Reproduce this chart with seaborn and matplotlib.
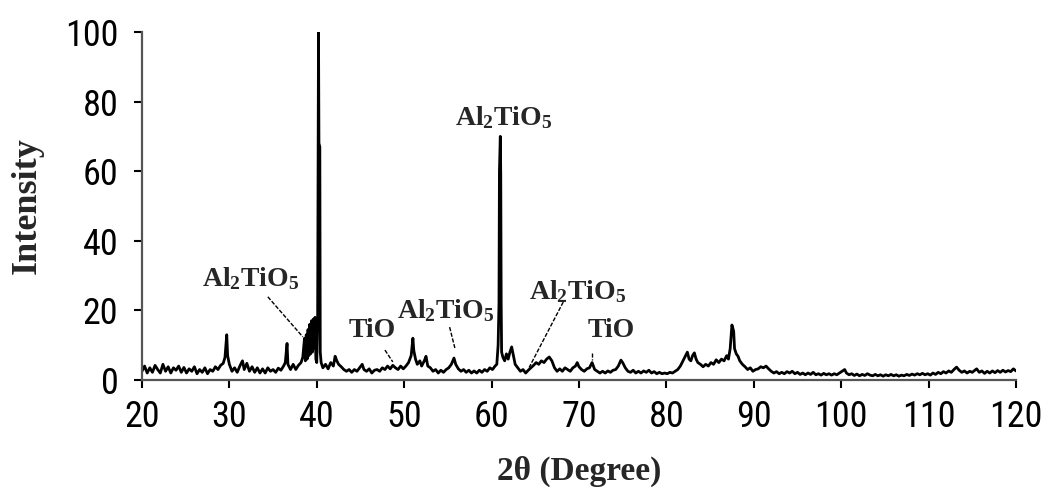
import matplotlib
matplotlib.use("Agg")
import matplotlib.pyplot as plt
import matplotlib.font_manager as fm
import seaborn as sns

# XRD pattern, values
two_theta = [
    20.0, 20.3, 20.6, 20.9, 21.2, 21.5, 21.8, 22.1, 22.4, 22.7,
    23.0, 23.3, 23.6, 23.9, 24.2, 24.5, 24.8, 25.1, 25.4, 25.7,
    26.0, 26.3, 26.6, 26.9, 27.2, 27.5, 27.8, 28.1, 28.4, 28.7,
    29.0, 29.3, 29.5, 29.7, 29.8, 30.0, 30.3, 30.6, 30.9, 31.2,
    31.5, 31.7, 32.0, 32.3, 32.6, 32.9, 33.2, 33.5, 33.8, 34.1,
    34.4, 34.7, 35.0, 35.3, 35.6, 35.9, 36.2, 36.4, 36.6, 36.7,
    37.0, 37.3, 37.6, 37.9, 38.2, 38.4, 38.6, 38.7, 38.8, 38.9,
    39.0, 39.1, 39.2, 39.3, 39.4, 39.5, 39.6, 39.7, 39.8, 39.9,
    40.0, 40.1, 40.2, 40.25, 40.35, 40.4, 40.5, 40.7, 41.0, 41.3,
    41.6, 41.9, 42.1, 42.3, 42.5, 42.8, 43.1, 43.4, 43.7, 44.0,
    44.3, 44.6, 44.9, 45.2, 45.4, 45.7, 46.0, 46.3, 46.6, 46.9,
    47.2, 47.5, 47.8, 48.1, 48.4, 48.7, 49.0, 49.3, 49.6, 49.9,
    50.2, 50.5, 50.8, 51.0, 51.1, 51.3, 51.5, 51.8, 52.0, 52.3,
    52.5, 52.7, 53.0, 53.3, 53.6, 53.9, 54.2, 54.5, 54.8, 55.1,
    55.4, 55.7, 55.9, 56.2, 56.5, 56.8, 57.1, 57.4, 57.7, 58.0,
    58.3, 58.6, 58.9, 59.2, 59.5, 59.8, 60.1, 60.4, 60.6, 60.75,
    60.85, 60.9, 61.0, 61.05, 61.1, 61.15, 61.3, 61.5, 61.7, 61.9,
    62.1, 62.3, 62.5, 62.7, 63.0, 63.3, 63.6, 63.9, 64.2, 64.5,
    64.8, 65.1, 65.4, 65.7, 66.0, 66.3, 66.6, 66.9, 67.2, 67.5,
    67.8, 68.1, 68.4, 68.7, 69.0, 69.3, 69.6, 69.8, 70.0, 70.3,
    70.6, 70.9, 71.2, 71.5, 71.8, 72.1, 72.4, 72.7, 73.0, 73.3,
    73.6, 73.9, 74.2, 74.5, 74.8, 75.0, 75.3, 75.6, 75.9, 76.2,
    76.5, 76.8, 77.1, 77.4, 77.7, 78.0, 78.3, 78.6, 78.9, 79.2,
    79.5, 79.8, 80.1, 80.4, 80.7, 81.0, 81.3, 81.6, 81.9, 82.2,
    82.4, 82.6, 82.8, 83.0, 83.2, 83.4, 83.6, 83.9, 84.2, 84.5,
    84.8, 85.1, 85.4, 85.7, 86.0, 86.3, 86.6, 86.9, 87.1, 87.3,
    87.5, 87.7, 87.8, 88.0, 88.2, 88.4, 88.7, 89.0, 89.3, 89.6,
    89.9, 90.2, 90.5, 90.8, 91.1, 91.4, 91.7, 92.0, 92.3, 92.6,
    92.9, 93.2, 93.5, 93.8, 94.1, 94.4, 94.7, 95.0, 95.3, 95.6,
    95.9, 96.2, 96.5, 96.8, 97.1, 97.4, 97.7, 98.0, 98.3, 98.6,
    98.9, 99.2, 99.5, 99.8, 100.1, 100.4, 100.6, 100.9, 101.2, 101.5,
    101.8, 102.1, 102.4, 102.7, 103.0, 103.3, 103.6, 103.9, 104.2, 104.5,
    104.8, 105.1, 105.4, 105.7, 106.0, 106.3, 106.6, 106.9, 107.2, 107.5,
    107.8, 108.1, 108.4, 108.7, 109.0, 109.3, 109.6, 109.9, 110.2, 110.5,
    110.8, 111.1, 111.4, 111.7, 112.0, 112.3, 112.6, 112.9, 113.2, 113.5,
    113.8, 114.1, 114.4, 114.7, 115.0, 115.3, 115.5, 115.8, 116.1, 116.4,
    116.7, 117.0, 117.3, 117.6, 117.9, 118.2, 118.5, 118.8, 119.1, 119.4,
    119.7, 120.0,
]
intensity = [
    2.5, 4.0, 2.0, 3.5, 2.2, 4.2, 3.0, 2.0, 4.5, 2.5,
    3.8, 2.0, 3.5, 2.8, 4.0, 2.2, 3.6, 2.0, 3.2, 2.5,
    3.8, 1.8, 3.0, 2.2, 3.5, 1.8, 3.0, 2.5, 3.8, 3.0,
    4.2, 4.8, 6.5, 13.0, 7.0, 4.5, 2.5, 3.5, 2.2, 4.0,
    5.5, 3.0, 4.8, 2.5, 3.8, 2.2, 3.5, 2.0, 3.2, 2.0,
    3.5, 2.5, 3.0, 2.2, 3.4, 2.8, 4.0, 5.0, 10.5, 4.5,
    3.0, 4.5, 3.0, 4.2, 5.0, 6.5, 12.0, 5.5, 13.0, 6.0,
    14.5, 7.0, 16.0, 7.5, 17.0, 8.0, 17.5, 9.0, 18.0, 6.0,
    5.0, 17.0, 100.0, 68.0, 67.0, 8.0, 5.0, 3.5, 4.5, 3.2,
    5.0, 4.0, 6.8, 5.5, 4.5, 3.8, 3.0, 2.5, 3.0, 2.2,
    3.0, 2.5, 3.5, 4.5, 3.0, 2.5, 3.2, 2.0, 2.8, 3.0,
    2.5, 3.5, 3.0, 4.0, 3.2, 4.2, 3.5, 3.0, 4.0, 3.2,
    4.0, 5.0, 7.0, 12.0, 8.5, 6.0, 4.5, 5.5, 4.0, 5.5,
    6.8, 4.0, 3.5, 2.5, 3.0, 2.0, 2.8, 2.2, 3.0, 3.5,
    4.5, 6.3, 4.5, 3.2, 2.5, 3.0, 2.2, 2.8, 2.0, 2.6,
    2.0, 2.8, 2.2, 3.0, 2.5, 3.5, 3.0, 4.0, 4.5, 10.0,
    22.0, 60.0, 70.0, 59.0, 22.0, 8.0, 6.5, 5.5, 7.5, 6.0,
    8.0, 9.5, 7.0, 4.5, 3.5, 2.5, 3.0, 2.0, 2.8, 3.5,
    4.2, 5.0, 4.5, 5.5, 5.0, 6.0, 6.6, 5.5, 3.5, 2.5,
    3.2, 2.5, 3.5, 3.0, 2.5, 3.5, 4.0, 5.0, 3.8, 3.0,
    2.5, 3.2, 3.5, 5.0, 3.0, 2.5, 2.0, 2.5, 2.0, 2.6,
    2.2, 2.8, 3.0, 4.0, 5.7, 5.0, 3.5, 2.5, 2.2, 2.8,
    2.0, 2.5, 2.0, 2.6, 2.2, 2.8, 2.0, 2.4, 1.8, 2.2,
    1.8, 2.0, 1.8, 2.2, 2.0, 2.5, 3.0, 4.0, 5.5, 7.0,
    8.0, 6.0, 5.5, 7.0, 7.8, 6.0, 5.0, 4.5, 3.8, 4.5,
    4.0, 5.0, 4.5, 5.8, 5.0, 6.0, 5.5, 7.0, 6.0, 9.0,
    15.8, 14.0, 9.0, 7.5, 6.8, 5.5, 4.5, 3.8, 3.0, 3.5,
    2.5, 3.0, 3.2, 3.8, 3.5, 4.0, 3.2, 2.5, 2.0, 2.4,
    1.8, 2.2, 1.8, 2.4, 2.0, 2.5, 1.8, 2.2, 1.6, 2.0,
    1.5, 2.0, 1.6, 2.2, 1.5, 1.8, 1.4, 1.9, 1.5, 1.8,
    1.4, 1.8, 1.5, 2.0, 2.5, 3.0, 2.0, 1.5, 1.8, 1.3,
    1.7, 1.2, 1.6, 1.3, 1.8, 1.4, 1.2, 1.6, 1.2, 1.5,
    1.1, 1.5, 1.2, 1.6, 1.2, 1.5, 1.1, 1.4, 1.2, 1.6,
    1.3, 1.7, 1.4, 1.8, 1.5, 1.9, 1.5, 1.8, 1.4, 2.0,
    1.6, 2.2, 1.8, 2.4, 2.0, 2.6, 2.2, 3.0, 3.7, 2.8,
    2.2, 2.6, 2.0, 2.5, 2.2, 2.8, 3.2, 2.2, 2.6, 1.9,
    2.5, 2.0, 2.6, 2.1, 2.7, 2.2, 2.8, 2.3, 2.7, 2.4,
    3.2, 2.6,
]

# phase labels: text, label position, leader line (start, end) or None
phase_labels = ["Al$_2$TiO$_5$", "TiO", "Al$_2$TiO$_5$", "Al$_2$TiO$_5$", "Al$_2$TiO$_5$", "TiO"]
label_xy = [(32.4, 29.0), (46.4, 14.1), (54.8, 20.0), (61.4, 75.5), (69.8, 25.5), (73.7, 14.1)]
leaders = [((34.4, 23.9), (38.4, 12.4)),
           ((47.8, 8.6), (48.7, 5.2)),
           ((55.2, 15.2), (55.8, 9.2)),
           None,
           ((68.2, 22.4), (64.3, 3.6)),
           ((71.5, 7.8), (71.5, 5.7))]

x_ticks = [20, 30, 40, 50, 60, 70, 80, 90, 100, 110, 120]
y_ticks = [0, 20, 40, 60, 80, 100]

sns.set_style("ticks")
installed = {(f.name, f.stretch) for f in fm.fontManager.ttflist}
names = {n for n, s in installed}

# narrow font for the tick numbers, best available
tick_family, tick_stretch, tick_size = "DejaVu Sans", "normal", 21
if "Liberation Sans Narrow" in names:
    tick_family, tick_size = "Liberation Sans Narrow", 26
elif "Roboto Condensed" in names:
    tick_family, tick_size = "Roboto Condensed", 26
elif ("DejaVu Sans", "condensed") in installed or ("DejaVu Sans", 'semi-condensed') in installed:
    tick_family, tick_stretch, tick_size = "DejaVu Sans", "condensed", 24
elif "Roboto" in names:
    tick_family, tick_size = "Roboto", 22

serif_font = "Liberation Serif" if "Liberation Serif" in names else "DejaVu Serif"
plt.rcParams['font.family'] = [serif_font, 'DejaVu Serif']
plt.rcParams['mathtext.fontset'] = 'custom'
plt.rcParams['mathtext.rm'] = serif_font + ':bold'
plt.rcParams['mathtext.it'] = serif_font + ':bold'
plt.rcParams['mathtext.bf'] = serif_font + ':bold'

fig = plt.figure(figsize=(10.43, 4.91), dpi=100)
ax = fig.add_axes([0.1361, 0.2261, 0.838, 0.7088])

sns.lineplot(x=two_theta, y=intensity, color='black', linewidth=2.0, ax=ax)

for text, (tx, ty), lead in zip(phase_labels, label_xy, leaders):
    ax.text(tx, ty, text, ha='center', va='center', fontsize=20, fontweight='bold',
            family=serif_font)
    if lead is not None:
        (x0, y0), (x1, y1) = lead
        ax.plot([x0, x1], [y0, y1], color='black', linewidth=1.0, linestyle=(0, (3, 1.2)))

ax.set_xlim(20, 120)
ax.set_ylim(0, 100)
ax.set_xticks(x_ticks)
ax.set_yticks(y_ticks)
for lab in ax.get_xticklabels() + ax.get_yticklabels():
    lab.set_family(tick_family)
    lab.set_stretch(tick_stretch)
    lab.set_fontsize(tick_size)
ax.tick_params(axis='both', length=6, width=1.5, colors='black')
ax.tick_params(axis='x', pad=8)
ax.tick_params(axis='y', pad=11)

ax.set_xlabel("2θ (Degree)", fontsize=24, fontweight='bold', labelpad=15)
ax.set_ylabel("Intensity", fontsize=26, fontweight='bold', labelpad=15)

sns.despine(ax=ax)
for side in ['left', 'bottom']:
    ax.spines[side].set_linewidth(1.6)
    ax.spines[side].set_color('#555555')

fig.savefig("out.png", dpi=100)
